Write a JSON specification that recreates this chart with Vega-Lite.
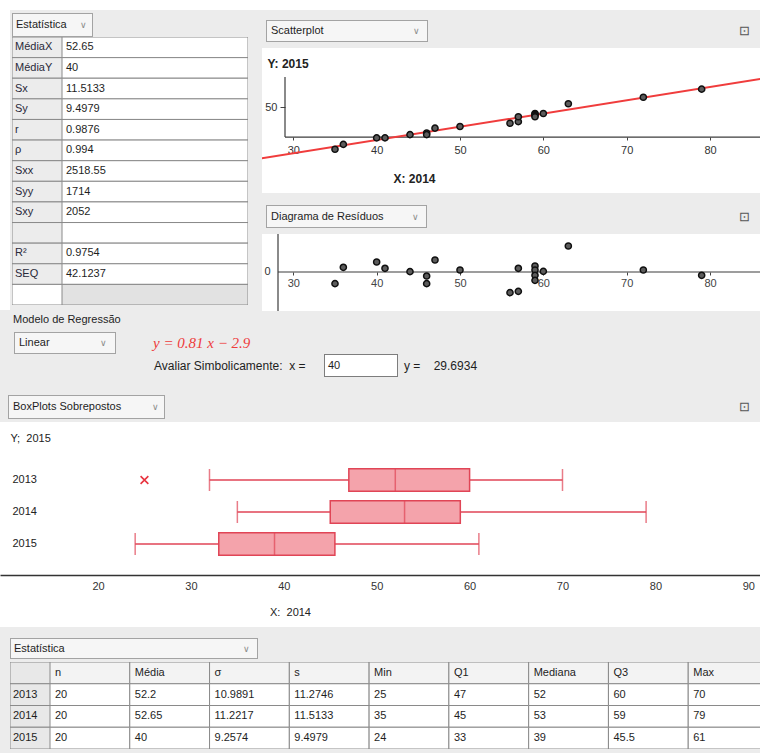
{
"$schema": "https://vega.github.io/schema/vega-lite/v6.json",
"background": "#ececec",
"padding": 0,
"spacing": 0,
"config": {
  "view": {"stroke": null},
  "font": "Liberation Sans",
  "concat": {"spacing": 0},
  "text": {"font": "Liberation Sans", "fontSize": 11, "color": "#1e1e1e"},
  "axis": {"labelFont": "Liberation Sans", "titleFont": "Liberation Sans", "grid": false}
},
"datasets": {
  "stats": [
    {"k": 1, "lab": "MédiaX", "v": "52.65"},
    {"k": 2, "lab": "MédiaY", "v": "40"},
    {"k": 3, "lab": "Sx", "v": "11.5133"},
    {"k": 4, "lab": "Sy", "v": "9.4979"},
    {"k": 5, "lab": "r", "v": "0.9876"},
    {"k": 6, "lab": "ρ", "v": "0.994"},
    {"k": 7, "lab": "Sxx", "v": "2518.55"},
    {"k": 8, "lab": "Syy", "v": "1714"},
    {"k": 9, "lab": "Sxy", "v": "2052"},
    {"k": 10, "lab": "", "v": ""},
    {"k": 11, "lab": "R²", "v": "0.9754"},
    {"k": 12, "lab": "SEQ", "v": "42.1237"},
    {"k": 13, "lab": "", "v": ""}
  ],
  "pts": [
    {"x2014": 35, "y2015": 24, "res": -1.62},
    {"x2014": 36, "y2015": 27, "res": 0.65},
    {"x2014": 40, "y2015": 31, "res": 1.39},
    {"x2014": 41, "y2015": 31, "res": 0.51},
    {"x2014": 44, "y2015": 33, "res": 0.05},
    {"x2014": 46, "y2015": 34, "res": -0.56},
    {"x2014": 46, "y2015": 33, "res": -1.62},
    {"x2014": 47, "y2015": 37, "res": 1.67},
    {"x2014": 50, "y2015": 38, "res": 0.28},
    {"x2014": 56, "y2015": 40, "res": -2.87},
    {"x2014": 57, "y2015": 41, "res": -2.69},
    {"x2014": 57, "y2015": 44, "res": 0.51},
    {"x2014": 59, "y2015": 46, "res": 0.83},
    {"x2014": 59, "y2015": 45.5, "res": 0.28},
    {"x2014": 59, "y2015": 44.7, "res": -0.46},
    {"x2014": 59, "y2015": 44, "res": -1.16},
    {"x2014": 60, "y2015": 46, "res": 0.09},
    {"x2014": 63, "y2015": 52, "res": 3.61},
    {"x2014": 72, "y2015": 56, "res": 0.28},
    {"x2014": 79, "y2015": 61, "res": -0.46}
  ],
  "box": [
    {"ano": "2013", "lo": 32, "q1": 47, "med": 52, "q3": 60, "hi": 70},
    {"ano": "2014", "lo": 35, "q1": 45, "med": 53, "q3": 59, "hi": 79},
    {"ano": "2015", "lo": 24, "q1": 33, "med": 39, "q3": 45.5, "hi": 61}
  ],
  "tab": [
    {"r": "hdr", "lab": "", "n": "n", "media": "Média", "sigma": "σ", "s": "s", "min": "Min", "q1": "Q1", "mediana": "Mediana", "q3": "Q3", "max": "Max"},
    {"r": "2013", "lab": "2013", "n": "20", "media": "52.2", "sigma": "10.9891", "s": "11.2746", "min": "25", "q1": "47", "mediana": "52", "q3": "60", "max": "70"},
    {"r": "2014", "lab": "2014", "n": "20", "media": "52.65", "sigma": "11.2217", "s": "11.5133", "min": "35", "q1": "45", "mediana": "53", "q3": "59", "max": "79"},
    {"r": "2015", "lab": "2015", "n": "20", "media": "40", "sigma": "9.2574", "s": "9.4979", "min": "24", "q1": "33", "mediana": "39", "q3": "45.5", "max": "61"}
  ]
},
"vconcat": [
  {"width": 760, "height": 10, "view": {"fill": "#ffffff"}, "data": {"values": [{}]}, "mark": {"type": "rect", "opacity": 0}, "encoding": {}},
  {"spacing": 0, "hconcat": [
    {"width": 10, "height": 300, "view": {"fill": "#ffffff"}, "data": {"values": [{}]}, "mark": {"type": "rect", "opacity": 0}, "encoding": {}},
    {"spacing": 0, "vconcat": [
      {"width": 245, "height": 3, "data": {"values": [{}]}, "mark": {"type": "rect", "opacity": 0}, "encoding": {}},
      {"spacing": 0, "hconcat": [
        {"width": 2, "height": 24, "data": {"values": [{}]}, "mark": {"type": "rect", "opacity": 0}, "encoding": {}},
        {"width": 81, "height": 24, "data": {"values": [{"t": "Estatística"}]}, "layer": [
          {"mark": {"type": "rect", "clip": true, "fill": "#f6f6f6", "stroke": "#a3a3a3", "strokeWidth": 2}, "encoding": {}},
          {"mark": {"type": "text", "align": "left", "baseline": "middle", "dx": 4, "fontSize": 11}, "encoding": {"x": {"datum": "a", "type": "nominal", "scale": {"type": "point", "domain": ["a", "b"], "padding": 0}, "axis": null}, "text": {"field": "t"}}},
          {"mark": {"type": "text", "align": "right", "baseline": "middle", "dx": -6, "fontSize": 9, "color": "#8a8a8a", "text": "∨"}, "encoding": {"x": {"datum": "b", "type": "nominal", "scale": {"type": "point", "domain": ["a", "b"], "padding": 0}, "axis": null}}}
        ]}
      ]},
      {"spacing": 0, "hconcat": [
        {"width": 2, "height": 268, "data": {"values": [{}]}, "mark": {"type": "rect", "opacity": 0}, "encoding": {}},
        {"width": 50, "height": 268, "data": {"name": "stats"},
         "encoding": {"y": {"field": "k", "type": "ordinal", "scale": {"paddingInner": 0, "paddingOuter": 0}, "axis": null}},
         "layer": [
          {"mark": {"type": "rect", "clip": true, "stroke": "#8a8a8a", "strokeWidth": 1}, "encoding": {"fill": {"condition": {"test": "datum.k === 13", "value": "#ffffff"}, "value": "#ececec"}}},
          {"mark": {"type": "text", "align": "left", "baseline": "middle", "dx": 3, "fontSize": 11, "color": "#2a2a3a"}, "encoding": {"x": {"datum": "a", "type": "nominal", "scale": {"type": "point", "domain": ["a", "b"], "padding": 0}, "axis": null}, "text": {"field": "lab"}}}
         ]},
        {"width": 186, "height": 268, "data": {"name": "stats"},
         "encoding": {"y": {"field": "k", "type": "ordinal", "scale": {"paddingInner": 0, "paddingOuter": 0}, "axis": null}},
         "layer": [
          {"mark": {"type": "rect", "clip": true, "stroke": "#8a8a8a", "strokeWidth": 1}, "encoding": {"fill": {"condition": {"test": "datum.k === 13", "value": "#e2e2e2"}, "value": "#ffffff"}}},
          {"mark": {"type": "text", "align": "left", "baseline": "middle", "dx": 4, "fontSize": 11}, "encoding": {"x": {"datum": "a", "type": "nominal", "scale": {"type": "point", "domain": ["a", "b"], "padding": 0}, "axis": null}, "text": {"field": "v"}}}
         ]}
      ]}
    ]},
    {"width": 7, "height": 300, "data": {"values": [{}]}, "mark": {"type": "rect", "opacity": 0}, "encoding": {}},
    {"spacing": 0, "vconcat": [
      {"width": 498, "height": 10, "data": {"values": [{}]}, "mark": {"type": "rect", "opacity": 0}, "encoding": {}},
      {"spacing": 0, "hconcat": [
        {"width": 4, "height": 22, "data": {"values": [{}]}, "mark": {"type": "rect", "opacity": 0}, "encoding": {}},
        {"width": 162, "height": 22, "data": {"values": [{"t": "Scatterplot"}]}, "layer": [
          {"mark": {"type": "rect", "clip": true, "fill": "#f6f6f6", "stroke": "#a3a3a3", "strokeWidth": 2}, "encoding": {}},
          {"mark": {"type": "text", "align": "left", "baseline": "middle", "dx": 5, "fontSize": 11}, "encoding": {"x": {"datum": "a", "type": "nominal", "scale": {"type": "point", "domain": ["a", "b"], "padding": 0}, "axis": null}, "text": {"field": "t"}}},
          {"mark": {"type": "text", "align": "right", "baseline": "middle", "dx": -8, "fontSize": 9, "color": "#8a8a8a", "text": "∨"}, "encoding": {"x": {"datum": "b", "type": "nominal", "scale": {"type": "point", "domain": ["a", "b"], "padding": 0}, "axis": null}}}
        ]},
        {"width": 332, "height": 22, "data": {"values": [{"t": "⊡"}]}, "mark": {"type": "text", "align": "right", "baseline": "middle", "dx": -10, "fontSize": 13, "color": "#555555"}, "encoding": {"x": {"datum": "b", "type": "nominal", "scale": {"type": "point", "domain": ["a", "b"], "padding": 0}, "axis": null}, "text": {"field": "t"}}}
      ]},
      {"width": 498, "height": 6, "data": {"values": [{}]}, "mark": {"type": "rect", "opacity": 0}, "encoding": {}},
      {"width": 498, "height": 145, "view": {"fill": "#ffffff"},
       "layer": [
        {"data": {"values": [{}]}, "mark": {"type": "rule", "color": "#3c3c3c", "strokeWidth": 1.2}, "encoding": {"x": {"datum": 29.0, "type": "quantitative"}, "x2": {"datum": 86}, "y": {"datum": 31.5, "type": "quantitative"}}},
        {"data": {"values": [{}]}, "mark": {"type": "rule", "color": "#3c3c3c", "strokeWidth": 1.2}, "encoding": {"x": {"datum": 29.0, "type": "quantitative"}, "y": {"datum": 31.5, "type": "quantitative"}, "y2": {"datum": 68.5}}},
        {"data": {"values": [{"x2014": 20, "y2015": 13.4}, {"x2014": 90, "y2015": 70.43}]}, "mark": {"type": "line", "color": "#f03c3c", "strokeWidth": 2, "clip": true}, "encoding": {"x": {"field": "x2014", "type": "quantitative"}, "y": {"field": "y2015", "type": "quantitative"}}},
        {"data": {"name": "pts"}, "mark": {"type": "point", "filled": true, "size": 38, "fill": "#5c5c5c", "stroke": "#101010", "strokeWidth": 1.5, "opacity": 1},
         "encoding": {
          "x": {"field": "x2014", "type": "quantitative", "scale": {"domain": [26.24, 86], "nice": false, "zero": false},
                "axis": {"orient": "bottom", "offset": -56, "values": [30, 40, 50, 60, 70, 80], "domain": false, "tickSize": 3, "tickColor": "#444444", "labelPadding": 4, "labelFontSize": 11, "labelColor": "#333333", "title": "X:\u00a02014", "titleX": 131, "titleY": 41, "titleAlign": "left", "titleBaseline": "middle", "titleFontSize": 12, "titleFontWeight": "bold", "titleColor": "#222222"}},
          "y": {"field": "y2015", "type": "quantitative", "scale": {"domain": [-2.9, 86.3], "nice": false, "zero": false},
                "axis": {"orient": "left", "offset": -23, "values": [50], "domain": false, "tickSize": 5, "tickColor": "#444444", "labelPadding": 3, "labelFontSize": 11, "labelColor": "#333333", "title": "Y:\u00a02015", "titleAngle": 0, "titleX": -18, "titleY": 15, "titleAlign": "left", "titleBaseline": "middle", "titleFontSize": 12, "titleFontWeight": "bold", "titleColor": "#222222"}}
         }}
       ]},
      {"width": 498, "height": 12, "data": {"values": [{}]}, "mark": {"type": "rect", "opacity": 0}, "encoding": {}},
      {"spacing": 0, "hconcat": [
        {"width": 4, "height": 23, "data": {"values": [{}]}, "mark": {"type": "rect", "opacity": 0}, "encoding": {}},
        {"width": 161, "height": 23, "data": {"values": [{"t": "Diagrama de Resíduos"}]}, "layer": [
          {"mark": {"type": "rect", "clip": true, "fill": "#f6f6f6", "stroke": "#a3a3a3", "strokeWidth": 2}, "encoding": {}},
          {"mark": {"type": "text", "align": "left", "baseline": "middle", "dx": 5, "fontSize": 11}, "encoding": {"x": {"datum": "a", "type": "nominal", "scale": {"type": "point", "domain": ["a", "b"], "padding": 0}, "axis": null}, "text": {"field": "t"}}},
          {"mark": {"type": "text", "align": "right", "baseline": "middle", "dx": -8, "fontSize": 9, "color": "#8a8a8a", "text": "∨"}, "encoding": {"x": {"datum": "b", "type": "nominal", "scale": {"type": "point", "domain": ["a", "b"], "padding": 0}, "axis": null}}}
        ]},
        {"width": 333, "height": 23, "data": {"values": [{"t": "⊡"}]}, "mark": {"type": "text", "align": "right", "baseline": "middle", "dx": -10, "fontSize": 13, "color": "#555555"}, "encoding": {"x": {"datum": "b", "type": "nominal", "scale": {"type": "point", "domain": ["a", "b"], "padding": 0}, "axis": null}, "text": {"field": "t"}}}
      ]},
      {"width": 498, "height": 5, "data": {"values": [{}]}, "mark": {"type": "rect", "opacity": 0}, "encoding": {}},
      {"width": 498, "height": 77, "view": {"fill": "#ffffff"},
       "layer": [
        {"data": {"values": [{}]}, "mark": {"type": "rule", "color": "#3c3c3c", "strokeWidth": 1.2}, "encoding": {"x": {"datum": 28.16, "type": "quantitative"}, "x2": {"datum": 86}, "y": {"datum": 0, "type": "quantitative"}}},
        {"data": {"values": [{}]}, "mark": {"type": "rule", "color": "#3c3c3c", "strokeWidth": 1.2}, "encoding": {"x": {"datum": 28.16, "type": "quantitative"}}},
        {"data": {"name": "pts"}, "mark": {"type": "point", "filled": true, "size": 38, "fill": "#5c5c5c", "stroke": "#101010", "strokeWidth": 1.5, "opacity": 1},
         "encoding": {
          "x": {"field": "x2014", "type": "quantitative", "scale": {"domain": [26.24, 86], "nice": false, "zero": false},
                "axis": {"orient": "bottom", "offset": -39, "values": [30, 40, 50, 60, 70, 80], "domain": false, "tickSize": 3, "tickColor": "#444444", "labelPadding": 2, "labelFontSize": 11, "labelColor": "#444444", "title": null}},
          "y": {"field": "res", "type": "quantitative", "scale": {"domain": [-5.42, 5.28], "nice": false, "zero": false},
                "axis": {"orient": "left", "offset": -16, "values": [0], "domain": false, "ticks": false, "tickSize": 0, "labelPadding": 8, "labelFontSize": 11, "labelColor": "#333333", "title": null}}
         }}
       ]}
    ]}
  ]},
  {"width": 760, "height": 16, "data": {"values": [{"t": "Modelo de Regressão"}]}, "mark": {"type": "text", "align": "left", "baseline": "middle", "dx": 13, "fontSize": 11}, "encoding": {"x": {"datum": "a", "type": "nominal", "scale": {"type": "point", "domain": ["a", "b"], "padding": 0}, "axis": null}, "text": {"field": "t"}}},
  {"width": 760, "height": 4, "data": {"values": [{}]}, "mark": {"type": "rect", "opacity": 0}, "encoding": {}},
  {"spacing": 0, "hconcat": [
    {"width": 14, "height": 22, "data": {"values": [{}]}, "mark": {"type": "rect", "opacity": 0}, "encoding": {}},
    {"width": 102, "height": 22, "data": {"values": [{"t": "Linear"}]}, "layer": [
      {"mark": {"type": "rect", "clip": true, "fill": "#f6f6f6", "stroke": "#a3a3a3", "strokeWidth": 2}, "encoding": {}},
      {"mark": {"type": "text", "align": "left", "baseline": "middle", "dx": 5, "fontSize": 11}, "encoding": {"x": {"datum": "a", "type": "nominal", "scale": {"type": "point", "domain": ["a", "b"], "padding": 0}, "axis": null}, "text": {"field": "t"}}},
      {"mark": {"type": "text", "align": "right", "baseline": "middle", "dx": -9, "fontSize": 9, "color": "#8a8a8a", "text": "∨"}, "encoding": {"x": {"datum": "b", "type": "nominal", "scale": {"type": "point", "domain": ["a", "b"], "padding": 0}, "axis": null}}}
    ]},
    {"width": 37, "height": 22, "data": {"values": [{}]}, "mark": {"type": "rect", "opacity": 0}, "encoding": {}},
    {"width": 300, "height": 22, "data": {"values": [{"t": "y = 0.81 x − 2.9"}]}, "mark": {"type": "text", "align": "left", "baseline": "middle", "font": "Liberation Serif", "fontSize": 15, "fontStyle": "italic", "color": "#ee3b3b"}, "encoding": {"x": {"datum": "a", "type": "nominal", "scale": {"type": "point", "domain": ["a", "b"], "padding": 0}, "axis": null}, "text": {"field": "t"}}}
  ]},
  {"spacing": 0, "hconcat": [
    {"width": 153, "height": 23, "data": {"values": [{}]}, "mark": {"type": "rect", "opacity": 0}, "encoding": {}},
    {"width": 171, "height": 23, "data": {"values": [{"t": "Avaliar Simbolicamente:\u00a0\u00a0x ="}]}, "mark": {"type": "text", "align": "left", "baseline": "middle", "dx": 1, "fontSize": 12}, "encoding": {"x": {"datum": "a", "type": "nominal", "scale": {"type": "point", "domain": ["a", "b"], "padding": 0}, "axis": null}, "text": {"field": "t"}}},
    {"width": 74, "height": 23, "data": {"values": [{"t": "40"}]}, "layer": [
      {"mark": {"type": "rect", "clip": true, "fill": "#ffffff", "stroke": "#7d7d7d", "strokeWidth": 2}, "encoding": {}},
      {"mark": {"type": "text", "align": "left", "baseline": "middle", "dx": 4, "fontSize": 11}, "encoding": {"x": {"datum": "a", "type": "nominal", "scale": {"type": "point", "domain": ["a", "b"], "padding": 0}, "axis": null}, "text": {"field": "t"}}}
    ]},
    {"width": 110, "height": 23, "data": {"values": [{"t": "y =\u00a0\u00a0\u00a0\u00a029.6934"}]}, "mark": {"type": "text", "align": "left", "baseline": "middle", "dx": 6, "fontSize": 12}, "encoding": {"x": {"datum": "a", "type": "nominal", "scale": {"type": "point", "domain": ["a", "b"], "padding": 0}, "axis": null}, "text": {"field": "t"}}}
  ]},
  {"width": 760, "height": 10, "data": {"values": [{}]}, "mark": {"type": "rect", "opacity": 0}, "encoding": {}},
  {"width": 760, "height": 8, "data": {"values": [{}]}, "mark": {"type": "rect", "opacity": 0}, "encoding": {}},
  {"spacing": 0, "hconcat": [
    {"width": 8, "height": 24, "data": {"values": [{}]}, "mark": {"type": "rect", "opacity": 0}, "encoding": {}},
    {"width": 157, "height": 24, "data": {"values": [{"t": "BoxPlots Sobrepostos"}]}, "layer": [
      {"mark": {"type": "rect", "clip": true, "fill": "#f6f6f6", "stroke": "#a3a3a3", "strokeWidth": 2}, "encoding": {}},
      {"mark": {"type": "text", "align": "left", "baseline": "middle", "dx": 5, "fontSize": 11}, "encoding": {"x": {"datum": "a", "type": "nominal", "scale": {"type": "point", "domain": ["a", "b"], "padding": 0}, "axis": null}, "text": {"field": "t"}}},
      {"mark": {"type": "text", "align": "right", "baseline": "middle", "dx": -6, "fontSize": 9, "color": "#8a8a8a", "text": "∨"}, "encoding": {"x": {"datum": "b", "type": "nominal", "scale": {"type": "point", "domain": ["a", "b"], "padding": 0}, "axis": null}}}
    ]},
    {"width": 595, "height": 24, "data": {"values": [{"t": "⊡"}]}, "mark": {"type": "text", "align": "right", "baseline": "middle", "dx": -10, "fontSize": 13, "color": "#555555"}, "encoding": {"x": {"datum": "b", "type": "nominal", "scale": {"type": "point", "domain": ["a", "b"], "padding": 0}, "axis": null}, "text": {"field": "t"}}}
  ]},
  {"width": 760, "height": 3, "data": {"values": [{}]}, "mark": {"type": "rect", "opacity": 0}, "encoding": {}},
  {"width": 760, "height": 205, "view": {"fill": "#ffffff"},
   "layer": [
    {"data": {"name": "box"}, "mark": {"type": "rule", "color": "#e04556", "strokeWidth": 1.5},
     "encoding": {
      "x": {"field": "lo", "type": "quantitative", "scale": {"domain": [9.45, 91.26], "nice": false, "zero": false},
            "axis": {"orient": "bottom", "offset": -52, "values": [20, 30, 40, 50, 60, 70, 80, 90], "domain": true, "domainColor": "#333333", "domainWidth": 1.5, "ticks": false, "tickSize": 0, "labelPadding": 5, "labelFontSize": 11, "labelColor": "#333333", "title": "X:\u00a0\u00a02014", "titleX": 290, "titleY": 37, "titleAlign": "center", "titleBaseline": "middle", "titleFontSize": 11, "titleFontWeight": "normal", "titleColor": "#222222"}},
      "x2": {"field": "hi"},
      "y": {"field": "ano", "type": "nominal", "scale": {"type": "band", "domain": ["2013", "2014", "2015"], "range": [42, 138], "paddingInner": 0.3, "paddingOuter": 0.15},
            "axis": {"orient": "left", "offset": -12, "domain": false, "ticks": false, "tickSize": 0, "labelPadding": 0, "labelAlign": "left", "labelFontSize": 11, "labelColor": "#222222", "title": "Y;\u00a0\u00a02015", "titleAngle": 0, "titleX": -2, "titleY": 16, "titleAlign": "left", "titleBaseline": "middle", "titleFontSize": 11, "titleFontWeight": "normal", "titleColor": "#222222"}}
     }},
    {"data": {"name": "box"}, "mark": {"type": "rect", "fill": "#f4a3ab", "stroke": "#e04556", "strokeWidth": 1.5},
     "encoding": {"x": {"field": "q1", "type": "quantitative"}, "x2": {"field": "q3"}, "y": {"field": "ano", "type": "nominal"}}},
    {"data": {"name": "box"}, "mark": {"type": "tick", "orient": "vertical", "color": "#e04556", "thickness": 1.5, "size": 22},
     "encoding": {"x": {"field": "lo", "type": "quantitative"}, "y": {"field": "ano", "type": "nominal"}}},
    {"data": {"name": "box"}, "mark": {"type": "tick", "orient": "vertical", "color": "#e04556", "thickness": 1.5, "size": 22},
     "encoding": {"x": {"field": "hi", "type": "quantitative"}, "y": {"field": "ano", "type": "nominal"}}},
    {"data": {"name": "box"}, "mark": {"type": "tick", "orient": "vertical", "color": "#e04556", "thickness": 1.5, "size": 22},
     "encoding": {"x": {"field": "med", "type": "quantitative"}, "y": {"field": "ano", "type": "nominal"}}},
    {"data": {"values": [{"ano": "2013", "v": 25}]}, "mark": {"type": "point", "shape": "M-1,-1L1,1M1,-1L-1,1", "filled": false, "color": "#e8333f", "strokeWidth": 1.6, "size": 60, "opacity": 1},
     "encoding": {"x": {"field": "v", "type": "quantitative"}, "y": {"field": "ano", "type": "nominal"}}}
   ]},
  {"width": 760, "height": 11, "data": {"values": [{}]}, "mark": {"type": "rect", "opacity": 0}, "encoding": {}},
  {"spacing": 0, "hconcat": [
    {"width": 10, "height": 21, "data": {"values": [{}]}, "mark": {"type": "rect", "opacity": 0}, "encoding": {}},
    {"width": 248, "height": 21, "data": {"values": [{"t": "Estatística"}]}, "layer": [
      {"mark": {"type": "rect", "clip": true, "fill": "#f6f6f6", "stroke": "#a3a3a3", "strokeWidth": 2}, "encoding": {}},
      {"mark": {"type": "text", "align": "left", "baseline": "middle", "dx": 4, "fontSize": 11}, "encoding": {"x": {"datum": "a", "type": "nominal", "scale": {"type": "point", "domain": ["a", "b"], "padding": 0}, "axis": null}, "text": {"field": "t"}}},
      {"mark": {"type": "text", "align": "right", "baseline": "middle", "dx": -8, "fontSize": 9, "color": "#8a8a8a", "text": "∨"}, "encoding": {"x": {"datum": "b", "type": "nominal", "scale": {"type": "point", "domain": ["a", "b"], "padding": 0}, "axis": null}}}
    ]}
  ]},
  {"width": 760, "height": 3, "data": {"values": [{}]}, "mark": {"type": "rect", "opacity": 0}, "encoding": {}},
  {"spacing": 0, "hconcat": [
    {"width": 10, "height": 87, "data": {"values": [{}]}, "mark": {"type": "rect", "opacity": 0}, "encoding": {}},
    {"width": 40, "height": 87, "data": {"name": "tab"},
     "encoding": {"y": {"field": "r", "type": "nominal", "scale": {"domain": ["hdr", "2013", "2014", "2015"], "paddingInner": 0, "paddingOuter": 0}, "axis": null}},
     "layer": [
      {"mark": {"type": "rect", "clip": true, "fill": "#e8e8e8", "stroke": "#8a8a8a", "strokeWidth": 1}, "encoding": {}},
      {"mark": {"type": "text", "align": "left", "baseline": "middle", "dx": 3, "fontSize": 11}, "encoding": {"x": {"datum": "a", "type": "nominal", "scale": {"type": "point", "domain": ["a", "b"], "padding": 0}, "axis": null}, "text": {"field": "lab"}}}
     ]},
    {"width": 710, "height": 87, "data": {"name": "tab"},
     "transform": [{"fold": ["n", "media", "sigma", "s", "min", "q1", "mediana", "q3", "max"], "as": ["c", "t"]}],
     "encoding": {
      "y": {"field": "r", "type": "nominal", "scale": {"domain": ["hdr", "2013", "2014", "2015"], "paddingInner": 0, "paddingOuter": 0}, "axis": null},
      "x": {"field": "c", "type": "nominal", "scale": {"domain": ["n", "media", "sigma", "s", "min", "q1", "mediana", "q3", "max"], "range": [0, 718], "paddingInner": 0, "paddingOuter": 0}, "axis": null}
     },
     "layer": [
      {"mark": {"type": "rect", "clip": true, "stroke": "#8a8a8a", "strokeWidth": 1}, "encoding": {"fill": {"condition": {"test": "datum.r === 'hdr'", "value": "#f3f3f3"}, "value": "#ffffff"}}},
      {"mark": {"type": "text", "align": "left", "baseline": "middle", "dx": 5, "fontSize": 11}, "encoding": {"x": {"field": "c", "type": "nominal", "bandPosition": 0, "axis": null}, "text": {"field": "t"}}}
     ]}
  ]},
  {"width": 760, "height": 6, "data": {"values": [{}]}, "mark": {"type": "rect", "opacity": 0}, "encoding": {}}
]
}
